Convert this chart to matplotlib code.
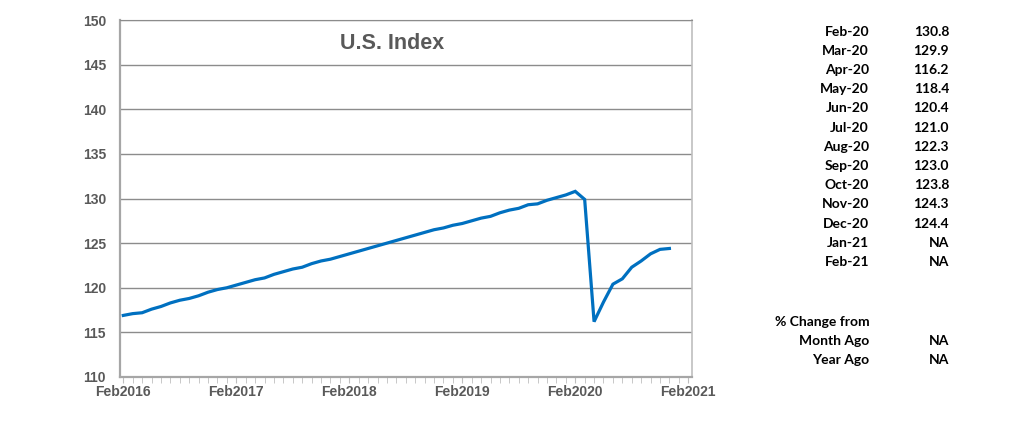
import matplotlib
matplotlib.use("Agg")
import matplotlib.pyplot as plt
from matplotlib.ticker import MultipleLocator

# ── data ────────────────────────────────────────────────────────────────
# monthly U.S. index, Feb2016 .. Dec2020
index_values = [
    116.9, 117.1, 117.2, 117.6, 117.9, 118.3, 118.6, 118.8, 119.1, 119.5, 119.8, 120.0,
    120.3, 120.6, 120.9, 121.1, 121.5, 121.8, 122.1, 122.3, 122.7, 123.0, 123.2, 123.5,
    123.8, 124.1, 124.4, 124.7, 125.0, 125.3, 125.6, 125.9, 126.2, 126.5, 126.7, 127.0,
    127.2, 127.5, 127.8, 128.0, 128.4, 128.7, 128.9, 129.3, 129.4, 129.8, 130.1, 130.4,
    130.8, 129.9, 116.2, 118.4, 120.4, 121.0, 122.3, 123.0, 123.8, 124.3, 124.4,
]
year_labels = ["Feb2016", "Feb2017", "Feb2018", "Feb2019", "Feb2020", "Feb2021"]

table_months = ["Feb-20", "Mar-20", "Apr-20", "May-20", "Jun-20", "Jul-20", "Aug-20",
                "Sep-20", "Oct-20", "Nov-20", "Dec-20", "Jan-21", "Feb-21"]
table_values = ["130.8", "129.9", "116.2", "118.4", "120.4", "121.0", "122.3",
                "123.0", "123.8", "124.3", "124.4", "NA", "NA"]
change_labels = ["Month Ago", "Year Ago"]
change_values = ["NA", "NA"]

W, H = 1035, 428
LINE_BLUE = "#0070C0"
TEXT_GRAY = "#595959"
GRID_GRAY = "#8c8c8c"

fig = plt.figure(figsize=(W / 100, H / 100), dpi=100)
ax = fig.add_axes([120 / W, 1 - 377 / H, (692 - 120) / W, (377 - 20) / H])

ax.plot(range(len(index_values)), index_values, color=LINE_BLUE, lw=2.3,
        solid_joinstyle="miter", zorder=3)

ax.set_ylim(110, 150)
ax.set_xlim(-0.35, 60.4)
ax.set_yticks(range(110, 151, 5))
ax.set_xticks(range(0, 61, 12))
ax.set_xticklabels(year_labels)
ax.xaxis.set_minor_locator(MultipleLocator(1))
ax.grid(axis="y", color=GRID_GRAY, lw=1)
ax.set_axisbelow(True)

for side in ("left", "bottom"):
    ax.spines[side].set_color("#a6a6a6")
    ax.spines[side].set_linewidth(1.6)
ax.spines["top"].set_color(GRID_GRAY)
ax.spines["right"].set_color("#bfbfbf")
ax.spines["right"].set_linewidth(1.2)

ax.tick_params(axis="y", length=0, pad=10, labelsize=10, labelcolor=TEXT_GRAY)
ax.tick_params(axis="x", which="major", length=4, color="#bfbfbf", pad=1.5,
               labelsize=10, labelcolor=TEXT_GRAY)
ax.tick_params(axis="x", which="minor", length=4, color="#bfbfbf")
for lab in ax.get_xticklabels() + ax.get_yticklabels():
    lab.set_fontweight("bold")
    lab.set_family("Liberation Sans")

ax.text(0.476, 0.935, "U.S. Index", transform=ax.transAxes, ha="center", va="center",
        fontsize=15.5, fontweight="bold", color=TEXT_GRAY, family="Liberation Sans")

# ── side table ──────────────────────────────────────────────────────────
def px(x, y):
    return x / W, 1 - y / H

tfont = dict(fontsize=10, fontweight="bold", color="black", family="Lato", va="center")
for i, (m, v) in enumerate(zip(table_months, table_values)):
    y = 31.7 + 19.2 * i
    fig.text(*px(869, y), m, ha="right", **tfont)
    fig.text(*px(949, y), v, ha="right", **tfont)

fig.text(*px(775, 321.5), "% Change from", ha="left", **tfont)
for i, (lab, v) in enumerate(zip(change_labels, change_values)):
    y = 341 + 19.2 * i
    fig.text(*px(869, y), lab, ha="right", **tfont)
    fig.text(*px(949, y), v, ha="right", **tfont)

fig.savefig("out.png", dpi=100)
